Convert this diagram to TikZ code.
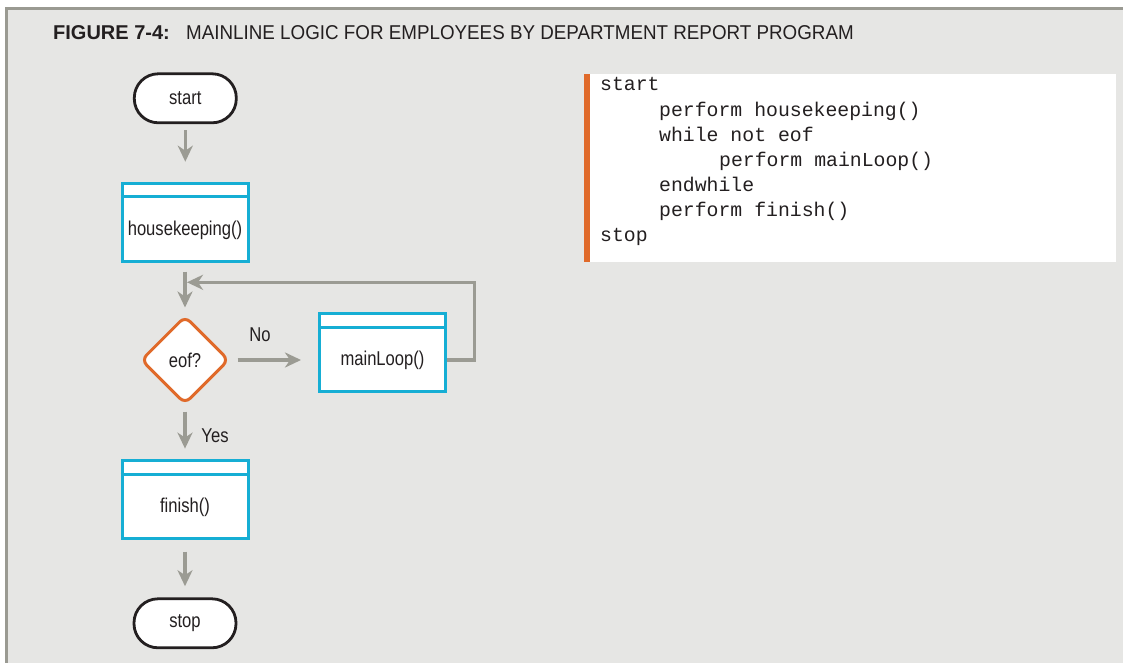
\documentclass[tikz,border=0pt]{standalone}
\usepackage{fontspec}
\setmainfont{Liberation Sans}
\newfontfamily\condfont[FakeStretch=0.83]{Liberation Sans}
\newfontfamily\titlereg[FakeStretch=0.94]{Liberation Sans}
\newfontfamily\titlebold{Liberation Sans}
\newfontfamily\codefont{Liberation Mono}
\usetikzlibrary{arrows.meta,shapes.geometric}
\definecolor{bggray}{HTML}{E6E6E4}
\definecolor{bordergray}{HTML}{9A9A92}
\definecolor{arrowgray}{HTML}{9B9B93}
\definecolor{procblue}{RGB}{22,174,212}
\definecolor{decorange}{RGB}{224,106,42}
\definecolor{inkblack}{HTML}{231F20}
\newcommand\proctext[1]{\raisebox{-8pt}[\height][\depth]{#1}}
\begin{document}
\begin{tikzpicture}[x=1pt,y=-1pt,
  chartfont/.style={font=\condfont\fontsize{20}{23}\selectfont, text=inkblack},
  terminal/.style={chartfont, draw=inkblack, line width=2.8pt, fill=white,
    rounded corners=24pt, minimum width=102pt, minimum height=49pt, inner sep=0pt},
  process/.style={chartfont, draw=procblue, line width=3pt, fill=white,
    minimum width=126pt, minimum height=78pt, inner sep=0pt},
  band/.style={draw=procblue, line width=3pt},
  decision/.style={chartfont, diamond, draw=decorange, line width=3pt, fill=white,
    rounded corners=7pt, minimum width=88pt, minimum height=88pt, inner sep=0pt, aspect=1},
  flow/.style={draw=arrowgray, line width=3.2pt, -{Stealth[length=16pt,width=15pt,inset=5pt]}},
  lbl/.style={chartfont, inner sep=0pt},
  codeline/.style={anchor=base west, inner sep=0pt, font=\codefont\fontsize{19.8}{24}\selectfont, text=inkblack}
]
\useasboundingbox (0,0) rectangle (1123,663);
\fill[white] (0,0) rectangle (1123,663);
\fill[bggray] (6,8.3) rectangle (1123,663);
\draw[bordergray, line width=2.6pt] (6.2,663) -- (6.2,8.3) -- (1123,8.3);

% title
\node[anchor=base west, inner sep=0pt, text=inkblack, font=\titlebold\bfseries\fontsize{20}{24}\selectfont] (tA) at (53,39.5) {FIGURE 7-4:};
\node[anchor=base west, inner sep=0pt, text=inkblack, font=\titlereg\fontsize{20}{24}\selectfont] (tB) at (186,39.5) {MAINLINE LOGIC FOR EMPLOYEES BY DEPARTMENT REPORT PROGRAM};

% flowchart
\node[terminal] (start) at (185.3,98.3) {start};
\node[process] (hk) at (185,222.2) {\proctext{housekeeping()}};
\draw[band] ([yshift=-15pt]hk.north west) -- ([yshift=-15pt]hk.north east);
\node[decision] (eof) at (185,360) {eof?};
\node[process] (ml) at (382.5,352.7) {\proctext{mainLoop()}};
\draw[band] ([yshift=-15pt]ml.north west) -- ([yshift=-15pt]ml.north east);
\node[process] (fin) at (185,499.7) {\proctext{finish()}};
\draw[band] ([yshift=-15pt]fin.north west) -- ([yshift=-15pt]fin.north east);
\node[terminal] (stop) at (185,623.3) {stop};

\coordinate (loopin) at (187,282.3);

\draw[flow, shorten <=6pt, shorten >=20pt] (start.south) -- (start.south |- hk.north);
\draw[flow, shorten <=9pt, shorten >=7pt] (hk.south) -- (eof.north);
\draw[flow, shorten <=7pt, shorten >=17pt] (eof.east) -- (eof.east -| ml.west);
\draw[flow] (ml.east |- eof.east) -- ++(27.2,0) |- (loopin);
\draw[flow, shorten <=6pt, shorten >=10.6pt] (eof.south) -- (fin.north);
\draw[flow, shorten <=11.3pt, shorten >=11.2pt] (fin.south) -- (stop.north);

\node[lbl] (no) at (260,335) {No};
\node[lbl] (yes) at (215,436) {Yes};

% pseudocode
\node[fill=white, anchor=north west, minimum width=532pt, minimum height=188pt, inner sep=0pt] (codebox) at (584,74) {};
\fill[decorange] (codebox.north west) rectangle ([xshift=6pt]codebox.south west);
\node[codeline] (c1) at (600,91) {start};
\node[codeline] (c2) at (659,116.1) {perform housekeeping()};
\node[codeline] (c3) at (659,141.3) {while not eof};
\node[codeline] (c4) at (719,166.4) {perform mainLoop()};
\node[codeline] (c5) at (659,191.6) {endwhile};
\node[codeline] (c6) at (659,216.7) {perform finish()};
\node[codeline] (c7) at (600,241.9) {stop};
\end{tikzpicture}
\end{document}
